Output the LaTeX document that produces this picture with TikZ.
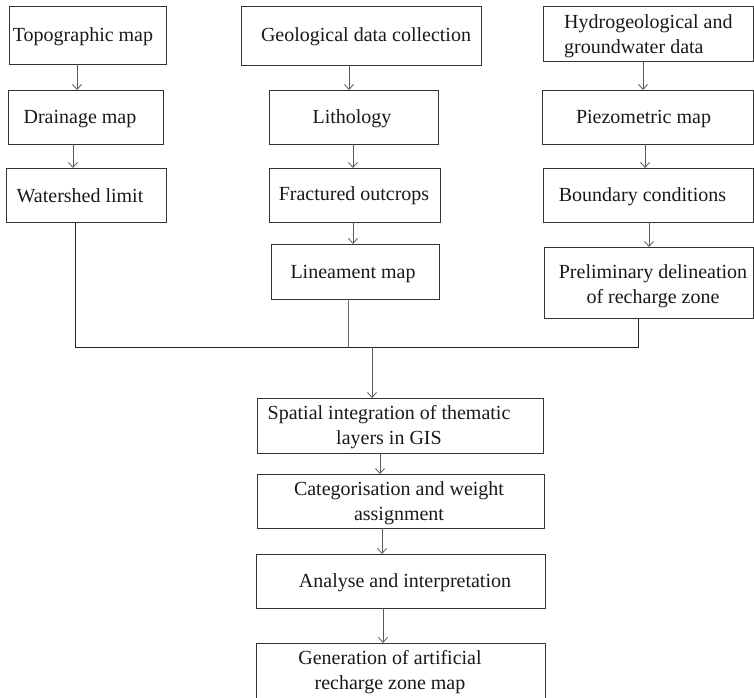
\documentclass[tikz,border=0pt]{standalone}
\usepackage{fontspec}
\setmainfont{Liberation Serif}
\usetikzlibrary{arrows.meta}
\tikzset{
  box/.style={draw=black!80, line width=1pt, rectangle, inner sep=0pt, outer sep=0pt},
  txt/.style={font=\fontsize{20}{25.5}\selectfont, align=center, inner sep=0pt, text=black!90},
  arr/.style={draw=black!65, line width=0.8pt, -{Straight Barb[length=5pt,width=9pt,line width=0.8pt]}},
  joinline/.style={draw=black!85, line width=1pt}
}
\newcommand{\mybox}[8]{%
  \node[box, minimum width={#4-#2}, minimum height={#5-#3}] (#1) at ({(#2+#4)/2},{(#3+#5)/2}) {};
  \node[txt] (#1-t) at (#6,{#7+2}) {#8};
}
\begin{document}
\begin{tikzpicture}[x=1pt,y=-1pt]
\useasboundingbox (0,0) rectangle (754,697);
\mybox{topo}{9}{6}{166}{64}{83}{35}{Topographic map}
\mybox{drain}{8}{90}{163}{144}{80}{117}{Drainage map}
\mybox{water}{6}{168}{166}{222}{80}{194}{Watershed limit}
\mybox{geo}{241}{6}{481}{65}{366}{35}{Geological data collection}
\mybox{lith}{269}{90}{438}{144}{352}{117}{Lithology}
\mybox{frac}{269}{168}{440}{222}{354}{194}{Fractured outcrops}
\mybox{line}{271}{244}{439}{299}{353}{272}{Lineament map}
\node[box, minimum width=210pt, minimum height=55pt] (hydro) at (648,33.5) {};
\node[txt, align=left, anchor=west] (hydro-t) at (564,36) {Hydrogeological and\\groundwater data};
\mybox{piezo}{542}{90}{753}{144}{643.5}{117}{Piezometric map}
\mybox{bound}{543}{168}{753}{222}{642.5}{195}{Boundary conditions}
\mybox{prelim}{544}{247}{753}{318}{653}{284}{Preliminary delineation\\of recharge zone}
\mybox{spatial}{257}{398}{543}{453}{389}{425}{Spatial integration of thematic\\layers in GIS}
\mybox{categ}{257}{474}{544}{528}{399}{501}{Categorisation and weight\\assignment}
\mybox{analyse}{256}{554}{545}{608}{405}{581}{Analyse and interpretation}
\mybox{gener}{256}{643}{545}{712}{390}{670}{Generation of artificial\\recharge zone map}
% arrows
\draw[arr] (topo.south -| 77,0) -- (drain.north -| 77,0);
\draw[arr] (drain.south -| 73,0) -- (water.north -| 73,0);
\draw[arr] (geo.south -| 349,0) -- (lith.north -| 349,0);
\draw[arr] (lith.south -| 353,0) -- (frac.north -| 353,0);
\draw[arr] (frac.south -| 353,0) -- (line.north -| 353,0);
\draw[arr] (hydro.south -| 643,0) -- (piezo.north -| 643,0);
\draw[arr] (piezo.south -| 645,0) -- (bound.north -| 645,0);
\draw[arr] (bound.south -| 649,0) -- (prelim.north -| 649,0);
% junction
\coordinate (jl) at (75,347);
\coordinate (jc) at (348,347);
\coordinate (jm) at (372,347);
\coordinate (jr) at (638,347);
\draw[joinline] (water.south -| jl) -- (jl) -- (jr) -- (prelim.south -| jr);
\draw[joinline, draw=black!60] (line.south -| jc) -- (jc);
\draw[arr] (jm) -- (spatial.north -| jm);
\draw[arr] (spatial.south -| 380,0) -- (categ.north -| 380,0);
\draw[arr] (categ.south -| 382,0) -- (analyse.north -| 382,0);
\draw[arr] (analyse.south -| 383,0) -- (gener.north -| 383,0);
\end{tikzpicture}
\end{document}
